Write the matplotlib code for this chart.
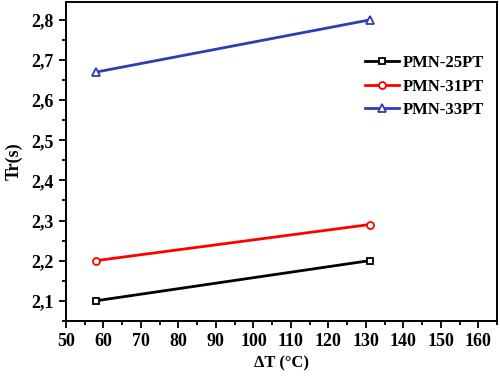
import matplotlib
matplotlib.use("Agg")
import matplotlib.pyplot as plt
from matplotlib.ticker import MultipleLocator, FuncFormatter

plt.rcParams['font.family'] = ['Liberation Serif', 'DejaVu Serif']
plt.rcParams['font.weight'] = 'bold'

delta_T = [58, 131]
pmn25 = [2.10, 2.20]
pmn31 = [2.20, 2.29]
pmn33 = [2.67, 2.80]
labels = ["PMN-25PT", "PMN-31PT", "PMN-33PT"]

fig = plt.figure(figsize=(5.0, 3.77), dpi=100)
ax = fig.add_axes([0.132, 0.149, 0.862, 0.846])

ax.plot(delta_T, pmn25, color='black', lw=2, marker='s', ms=5, mfc='white', mec='black', mew=1.3, label=labels[0])
ax.plot(delta_T, pmn31, color='red', lw=2, marker='o', ms=5, mfc='white', mec='red', mew=1.3, label=labels[1])
ax.plot(delta_T, pmn33, color='#2b3fb0', lw=2, marker='^', ms=6, mfc='white', mec='#2b3fb0', mew=1.3, label=labels[2])

ax.set_xlim(50, 165)
ax.set_ylim(2.05, 2.845)
ax.xaxis.set_major_locator(MultipleLocator(10))
ax.xaxis.set_minor_locator(MultipleLocator(5))
ax.yaxis.set_major_locator(MultipleLocator(0.1))
ax.yaxis.set_minor_locator(MultipleLocator(0.05))
ax.yaxis.set_major_formatter(FuncFormatter(lambda v, p: f"{v:.1f}".replace('.', ',')))
ax.tick_params(which='major', direction='out', length=5, width=1.3, labelsize=13, pad=4)
ax.tick_params(which='minor', direction='out', length=3, width=1.3)
for s in ax.spines.values():
    s.set_linewidth(1.4)

ax.set_xlabel("ΔT (°C)", fontsize=12, fontweight='bold', labelpad=4)
ax.set_ylabel("Tr(s)", fontsize=13, fontweight='bold', labelpad=6)

leg = ax.legend(loc='upper right', bbox_to_anchor=(1.005, 0.88), frameon=False, fontsize=12,
                handlelength=2.0, handletextpad=0.25, labelspacing=0.45)

fig.savefig("out.png", dpi=100)
